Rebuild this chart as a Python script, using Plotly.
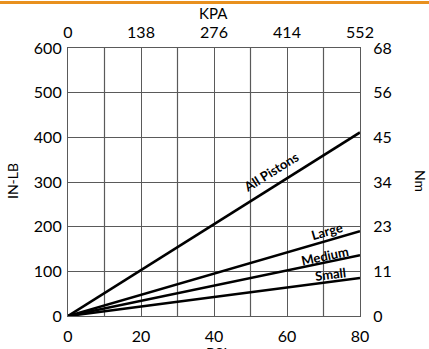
import plotly.graph_objects as go

psi = [0, 80]
all_pistons = [0, 411]
large = [0, 190]
medium = [0, 136]
small = [0, 85]

psi_ticks = [0, 20, 40, 60, 80]
kpa_labels = ["0", "138", "276", "414", "552"]
inlb_ticks = [0, 100, 200, 300, 400, 500, 600]
nm_labels = ["0", "11", "23", "34", "45", "56", "68"]

W, H = 429, 349
ML, MR, MT, MB = 68, 69, 48, 33
FONT = "Lato"
TF = dict(family=FONT, size=16, color="black")

fig = go.Figure()
for ys in [all_pistons, large, medium, small]:
    fig.add_trace(go.Scatter(x=psi, y=ys, mode="lines",
                             line=dict(color="black", width=2.6),
                             showlegend=False, hoverinfo="skip"))
fig.add_trace(go.Scatter(x=psi, y=[0, 600], xaxis="x2", yaxis="y2",
                         mode="markers", marker=dict(opacity=0),
                         showlegend=False, hoverinfo="skip"))

grid = "#5a5a5a"
fig.update_layout(
    width=W, height=H,
    margin=dict(l=ML, r=MR, t=MT, b=MB, pad=0),
    paper_bgcolor="white", plot_bgcolor="white",
    font=dict(family=FONT, size=15, color="black"),
    xaxis=dict(range=[0, 80], tickvals=psi_ticks,
               showgrid=True, gridcolor=grid, gridwidth=1.2,
               zeroline=False, showline=True, linecolor=grid, linewidth=1.2,
               ticks="", tickfont=TF, ticklabelstandoff=6, automargin=False),
    yaxis=dict(range=[0, 600], tickvals=inlb_ticks,
               showgrid=True, gridcolor=grid, gridwidth=1.2,
               zeroline=False, showline=True, linecolor=grid, linewidth=1.2,
               ticks="", tickfont=TF, ticklabelstandoff=2, automargin=False),
    xaxis2=dict(range=[0, 80], overlaying="x", side="top",
                tickvals=psi_ticks, ticktext=kpa_labels,
                showgrid=False, zeroline=False, showline=True,
                linecolor=grid, linewidth=1.2, ticks="", tickfont=TF,
                ticklabelstandoff=3, automargin=False),
    yaxis2=dict(range=[0, 600], overlaying="y", side="right",
                tickvals=inlb_ticks, ticktext=nm_labels,
                showgrid=False, zeroline=False, showline=True,
                linecolor=grid, linewidth=1.2, ticks="", tickfont=TF,
                ticklabelstandoff=9, automargin=False),
)

for v in range(10, 80, 10):
    if v not in psi_ticks:
        fig.add_shape(type="line", x0=v, x1=v, y0=0, y1=600, xref="x", yref="y",
                      line=dict(color=grid, width=1.2), layer="below")

PW = W - ML - MR
PH = H - MT - MB
fig.add_shape(type="line", xref="paper", yref="paper",
              x0=-ML / PW, x1=(W - ML) / PW,
              y0=(PH + MT - 2.5) / PH, y1=(PH + MT - 2.5) / PH,
              line=dict(color="#E8901E", width=3))

annots = [
    dict(text="All Pistons", x=55.5, y=322, textangle=-32),
    dict(text="Large", x=71, y=190, textangle=-16),
    dict(text="Medium", x=70.3, y=134, textangle=-12),
    dict(text="Small", x=72, y=95, textangle=-7),
]
for a in annots:
    fig.add_annotation(x=a["x"], y=a["y"], text="<b>" + a["text"] + "</b>",
                       textangle=a["textangle"], showarrow=False,
                       font=dict(family=FONT, size=13, color="black"))

def title(text, px, py, angle=0, size=15):
    fig.add_annotation(text=text, xref="paper", yref="paper",
                       x=(px - ML) / PW, y=(H - MB - py) / PH,
                       xanchor="center", yanchor="middle", textangle=angle,
                       showarrow=False, font=dict(family=FONT, size=size))

title("KPA", 213, 13)
title("PSI", 216, 353)
title("IN-LB", 12, 181, -90, 14)
title("Nm", 421, 181, 90, 14)

fig.write_html("out.html", config={"displayModeBar": False},
               post_script="document.body.style.margin='0';document.body.style.overflow='hidden';")
